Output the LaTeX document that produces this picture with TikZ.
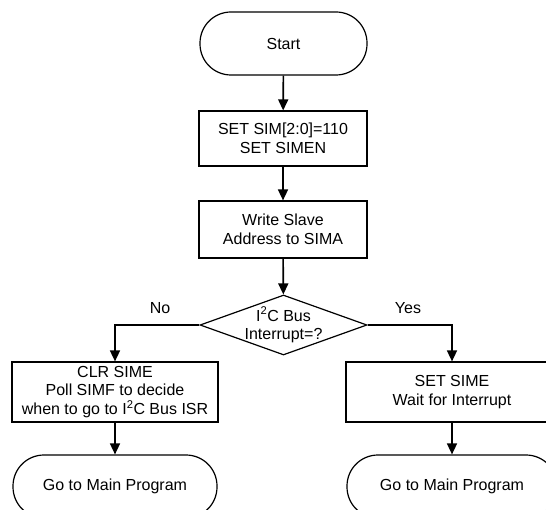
\documentclass[tikz,border=0pt]{standalone}
\usepackage{fontspec}
\setmainfont{Liberation Sans}
\usepackage{tikz}
\usetikzlibrary{
  arrows.meta,
  positioning,
  shapes.geometric
}

\begin{document}
\begin{tikzpicture}[
  x=1pt, y=-1pt,
  every node/.style={font=\fontsize{16}{18.5}\selectfont},
  terminal/.style={draw, line width=1.2pt, rounded corners=31pt, minimum width=#1, minimum height=63pt, inner sep=0pt},
  process/.style={draw, line width=1.2pt, align=center, minimum width=#1, minimum height=56pt, inner sep=2pt},
  decision/.style={draw, line width=1.2pt, diamond, aspect=2.78, align=center, inner sep=-14pt, minimum width=167pt, minimum height=60pt},
  arrow/.style={-{Triangle[length=11pt, width=10pt]}, line width=1.6pt},
  label/.style={inner sep=0pt}
]
  % Page frame
  \useasboundingbox (0,0) rectangle (546,510);
  \clip (0,0) rectangle (546,510);

  % Main column
  \node[terminal=167pt] (start) at (283.5,43.5) {Start};
  \node[process=168pt, minimum height=55pt] (setsim) at (283,138.5) {SET SIM[2:0]=110\\SET SIMEN};
  \node[process=168pt, minimum height=57pt] (addr) at (283,229.5) {Write Slave\\Address to SIMA};
  \node[decision] (irq) at (283.5,325) {I\textsuperscript{2}C Bus\\Interrupt=?};

  % Branches
  \node[label] (no) at (160,308) {No};
  \node[label] (yes) at (408,308) {Yes};
  \node[process=206pt, minimum height=60pt] (clr) at (115,392) {CLR SIME\\Poll SIMF to decide\\when to go to I\textsuperscript{2}C Bus ISR};
  \node[process=212pt, minimum height=60pt] (sete) at (452,392) {SET SIME\\Wait for Interrupt};

  % End terminals
  \node[terminal=204pt] (endl) at (115,486.5) {Go to Main Program};
  \node[terminal=210pt] (endr) at (452,486.5) {Go to Main Program};

  % Arrows
  \draw[arrow] (start) -- (setsim);
  \draw[arrow] (setsim) -- (addr);
  \draw[arrow] (addr) -- (irq);
  \draw[arrow] (irq.west) -| (clr.north);
  \draw[arrow] (irq.east) -| (sete.north);
  \draw[arrow] (clr) -- (endl);
  \draw[arrow] (sete) -- (endr);
\end{tikzpicture}
\end{document}
